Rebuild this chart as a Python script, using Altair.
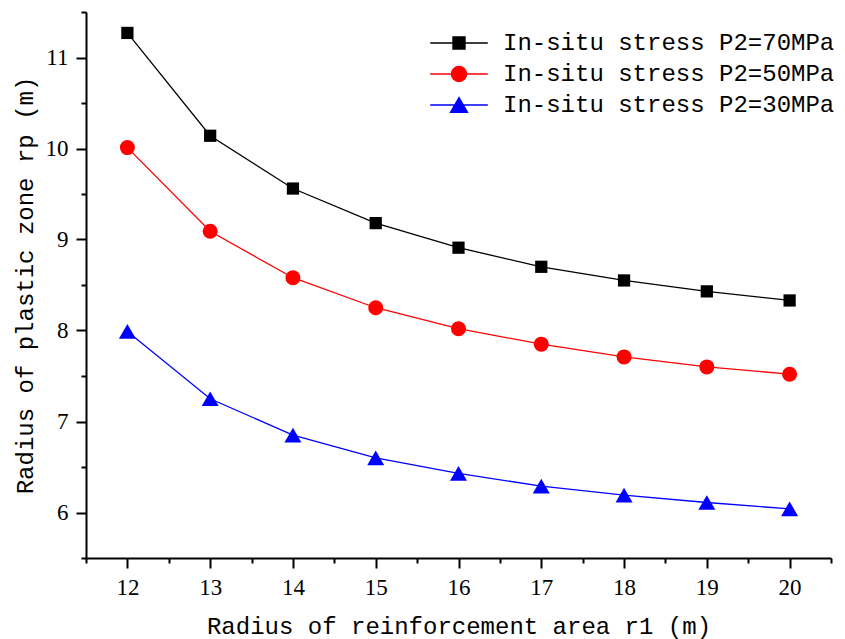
import altair as alt
import pandas as pd

r1 = [12, 13, 14, 15, 16, 17, 18, 19, 20]
rp_70 = [11.27, 10.14, 9.56, 9.18, 8.91, 8.70, 8.55, 8.43, 8.33]
rp_50 = [10.01, 9.09, 8.58, 8.25, 8.02, 7.85, 7.71, 7.60, 7.52]
rp_30 = [7.99, 7.25, 6.85, 6.60, 6.43, 6.29, 6.19, 6.11, 6.04]

series = ["In-situ stress P2=70MPa", "In-situ stress P2=50MPa", "In-situ stress P2=30MPa"]
colors = ["#000000", "#ff0000", "#0000ff"]
shapes = ["square", "circle", "triangle-up"]
marker_sizes = [150, 225, 289]

x_major = [12, 13, 14, 15, 16, 17, 18, 19, 20]
x_minor = [11.5, 12.5, 13.5, 14.5, 15.5, 16.5, 17.5, 18.5, 19.5, 20.5]
y_major = [6, 7, 8, 9, 10, 11]
y_minor = [5.5, 6.5, 7.5, 8.5, 9.5, 10.5, 11.5]

rows = []
for name, vals in zip(series, [rp_70, rp_50, rp_30]):
    for x, y in zip(r1, vals):
        rows.append({"r1": x, "rp": y, "series": name})
df = pd.DataFrame(rows)

LINE = "M-3.6,0H3.6"
legend_paths = [
    LINE + "M-0.75,-0.75H0.75V0.75H-0.75Z",
    LINE + "M0.94,0A0.94,0.94,0,1,1,-0.94,0A0.94,0.94,0,1,1,0.94,0Z",
    LINE + "M0,-0.92L1.06,0.92H-1.06Z",
]

major_axis = dict(
    grid=False,
    domainColor="black",
    domainWidth=2,
    tickColor="black",
    tickWidth=2,
    tickSize=10,
    labelFont="Liberation Serif",
    labelFontSize=23,
    labelFontWeight="normal",
    labelColor="black",
    labelPadding=8,
    titleFont="Liberation Mono",
    titleFontSize=24,
    titleFontWeight="normal",
    titleColor="black",
    titleAlign="center",
    titleBaseline="middle",
)
minor_axis = dict(
    grid=False,
    domain=False,
    labels=False,
    title=None,
    tickColor="black",
    tickWidth=2,
    tickSize=5,
)

xscale = alt.Scale(domain=[11.5, 20.5], nice=False, zero=False)
yscale = alt.Scale(domain=[5.5, 11.5], nice=False, zero=False)

x_main = alt.X(
    "r1:Q",
    scale=xscale,
    axis=alt.Axis(
        title="Radius of reinforcement area r1 (m)",
        values=x_major,
        format="d",
        orient="bottom",
        titleX=372.5,
        titleY=68,
        **major_axis,
    ),
)
y_main = alt.Y(
    "rp:Q",
    scale=yscale,
    axis=alt.Axis(
        title="Radius of plastic zone rp (m)",
        values=y_major,
        format="d",
        orient="left",
        titleX=-61,
        titleY=273,
        titleAngle=-90,
        **major_axis,
    ),
)
x_min = alt.X("r1:Q", scale=xscale, axis=alt.Axis(values=x_minor, orient="bottom", **minor_axis))
y_min = alt.Y("rp:Q", scale=yscale, axis=alt.Axis(values=y_minor, orient="left", **minor_axis))
x_none = alt.X("r1:Q", scale=xscale, axis=None)
y_none = alt.Y("rp:Q", scale=yscale, axis=None)

base = alt.Chart(df)
layers = []
for i, (name, col) in enumerate(zip(series, colors)):
    layers.append(
        base.transform_filter(alt.datum.series == name)
        .mark_line(strokeWidth=1.3, color=col)
        .encode(x=x_main if i == 0 else x_none, y=y_main if i == 0 else y_none)
    )
for name, col, shp, sz in zip(series, colors, shapes, marker_sizes):
    layers.append(
        base.transform_filter(alt.datum.series == name)
        .mark_point(filled=True, opacity=1, color=col, shape=shp, size=sz)
        .encode(x=x_none, y=y_none)
    )

legend = alt.Legend(
    title=None,
    orient="none",
    legendX=361,
    legendY=19,
    padding=0,
    labelFont="Liberation Mono",
    labelFontSize=24,
    labelColor="black",
    labelOffset=32,
    labelLimit=0,
    rowPadding=7,
    symbolSize=256,
    symbolStrokeWidth=1.4,
    symbolOpacity=1,
)

legend_layer = (
    base.transform_filter("false")
    .mark_point(filled=True, opacity=1)
    .encode(
        x=x_min,
        y=y_min,
        fill=alt.Fill("series:N", scale=alt.Scale(domain=series, range=colors), legend=legend),
        stroke=alt.Stroke("series:N", scale=alt.Scale(domain=series, range=colors), legend=legend),
        shape=alt.Shape("series:N", scale=alt.Scale(domain=series, range=legend_paths), legend=legend),
    )
)
layers.append(legend_layer)

chart = (
    alt.layer(*layers)
    .resolve_axis(x="independent", y="independent")
    .properties(
        width=745,
        height=546,
        autosize=alt.AutoSizeParams(type="none"),
        padding={"left": 86, "top": 12, "right": 14, "bottom": 81},
        background="white",
    )
    .configure_view(stroke=None)
)

chart.save("out.html", embed_options={"renderer": "svg", "actions": False})
